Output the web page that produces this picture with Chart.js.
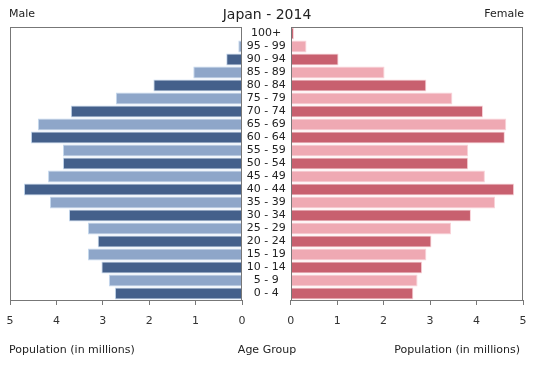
<!DOCTYPE html>
<html>
<head>
<meta charset="utf-8">
<script src="https://cdn.jsdelivr.net/npm/chart.js@4/dist/chart.umd.min.js"></script>
<style>
  html, body { margin: 0; padding: 0; background: #fff; }
  body { width: 550px; height: 379px; position: relative; overflow: hidden; font-family: "DejaVu Sans", sans-serif; color: #222; }
  canvas { position: absolute; top: 0; }
  .lbl { position: absolute; white-space: nowrap; font-size: 11px; line-height: 14px; color: #222; }
</style>
</head>
<body>
<canvas id="male" width="250" height="379" style="left:0px"></canvas>
<canvas id="female" width="308" height="379" style="left:242px"></canvas>
<div class="lbl" style="left:9px; top:7px;">Male</div>
<div class="lbl" style="left:167px; width:200px; top:5px; text-align:center; font-size:14px; line-height:18px;">Japan - 2014</div>
<div class="lbl" style="right:26px; top:7px;">Female</div>
<div class="lbl" style="left:9px; top:343px;">Population (in millions)</div>
<div class="lbl" style="left:217px; width:100px; top:343px; text-align:center;">Age Group</div>
<div class="lbl" style="right:30px; top:343px;">Population (in millions)</div>
<script>
const ageGroups = ['100+', '95 - 99', '90 - 94', '85 - 89', '80 - 84', '75 - 79', '70 - 74', '65 - 69', '60 - 64', '55 - 59', '50 - 54', '45 - 49', '40 - 44', '35 - 39', '30 - 34', '25 - 29', '20 - 24', '15 - 19', '10 - 14', '5 - 9', '0 - 4'];
const maleValues = [0.01, 0.08, 0.34, 1.05, 1.91, 2.72, 3.69, 4.40, 4.55, 3.86, 3.86, 4.18, 4.70, 4.14, 3.73, 3.32, 3.11, 3.32, 3.03, 2.87, 2.74];
const femaleValues = [0.07, 0.34, 1.03, 2.02, 2.92, 3.48, 4.14, 4.64, 4.61, 3.82, 3.82, 4.18, 4.81, 4.40, 3.88, 3.45, 3.03, 2.92, 2.83, 2.73, 2.64];
const populationTicks = [0, 1, 2, 3, 4, 5];

const maleDark = '#44608b', maleLight = '#8ea6c9', maleEdge = '#c4d8ee';
const femaleDark = '#c8606f', femaleLight = '#efa9b3', femaleEdge = '#f9d2d8';

const framePlugin = {
  id: 'frame',
  afterDraw(chart) {
    const a = chart.chartArea, ctx = chart.ctx;
    ctx.save();
    ctx.strokeStyle = '#777';
    ctx.lineWidth = 1;
    ctx.strokeRect(Math.round(a.left) + 0.5, Math.round(a.top) + 0.5, Math.round(a.right - a.left) - 1, Math.round(a.bottom - a.top));
    ctx.restore();
  }
};

const font = { family: 'DejaVu Sans', size: 11 };

function xScale(reverse) {
  return {
    type: 'linear',
    min: 0, max: 5,
    reverse: reverse,
    afterBuildTicks(s) { s.ticks = populationTicks.map(v => ({ value: v })); },
    ticks: { font: font, color: '#333', padding: 10, maxRotation: 0, autoSkip: false },
    grid: { display: true, drawOnChartArea: false, drawTicks: true, tickLength: 5, color: '#777' },
    border: { display: false },
    afterFit(s) { s.height = 79; }
  };
}

function colorsFor(dark, light) {
  return ageGroups.map((_, i) => (i % 2 === 0 ? dark : light));
}

Chart.defaults.font.family = 'DejaVu Sans';
Chart.defaults.animation = false;

new Chart(document.getElementById('male'), {
  type: 'bar',
  data: {
    labels: ageGroups,
    datasets: [{
      data: maleValues,
      backgroundColor: colorsFor(maleDark, maleLight),
      borderColor: maleEdge,
      borderWidth: 1,
      barPercentage: 0.92,
      categoryPercentage: 1.0
    }]
  },
  options: {
    indexAxis: 'y',
    responsive: false,
    devicePixelRatio: 1,
    layout: { padding: { left: 10, right: 8, top: 27, bottom: 0 } },
    plugins: { legend: { display: false }, tooltip: { enabled: false } },
    scales: {
      x: xScale(true),
      y: { type: 'category', display: false, offset: true }
    }
  },
  plugins: [framePlugin]
});

new Chart(document.getElementById('female'), {
  type: 'bar',
  data: {
    labels: ageGroups,
    datasets: [{
      data: femaleValues,
      backgroundColor: colorsFor(femaleDark, femaleLight),
      borderColor: femaleEdge,
      borderWidth: 1,
      barPercentage: 0.92,
      categoryPercentage: 1.0
    }]
  },
  options: {
    indexAxis: 'y',
    responsive: false,
    devicePixelRatio: 1,
    layout: { padding: { left: 0, right: 27, top: 27, bottom: 0 } },
    plugins: { legend: { display: false }, tooltip: { enabled: false } },
    scales: {
      x: xScale(false),
      y: {
        type: 'category',
        position: 'left',
        offset: true,
        ticks: { font: font, color: '#222', padding: 5, crossAlign: 'center', autoSkip: false },
        grid: { display: false, drawTicks: false, tickLength: 0 },
        border: { display: false },
        afterFit(s) { s.width = 48.7; }
      }
    }
  },
  plugins: [framePlugin]
});
</script>
</body>
</html>
